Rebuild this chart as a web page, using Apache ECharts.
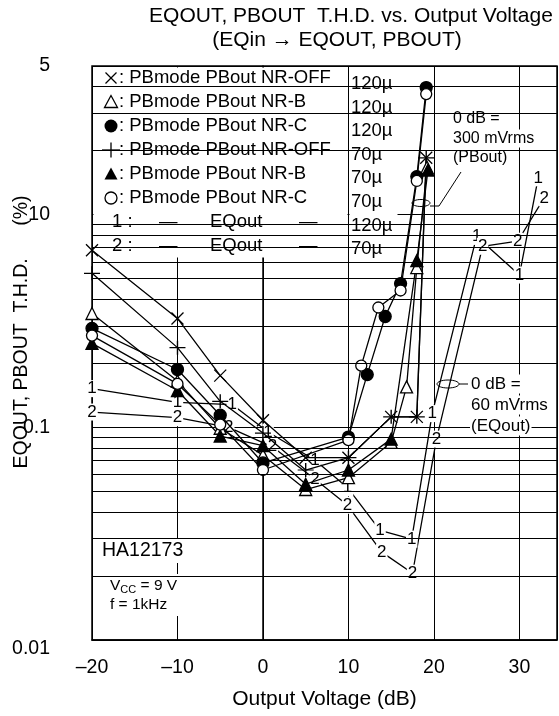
<!DOCTYPE html>
<html>
<head>
<meta charset="utf-8">
<script src="https://cdn.jsdelivr.net/npm/echarts@6/dist/echarts.min.js"></script>
<style>html,body{margin:0;padding:0;background:#fff}#c{width:559px;height:716px}</style>
</head>
<body>
<div id="c"></div>
<script>
const F = '"Liberation Sans", Arial, Helvetica, sans-serif';

// ---- axis ticks ----
const xTickValues = [-20, -10, 0, 10, 20, 30];
const xTickLabels = ['–20', '–10', '0', '10', '20', '30'];
const yTickValues = [0.01, 0.1, 1, 5];
const yTickText = ['0.01', '0.1', '10', '5'];
const minorGrid = [0.02,0.03,0.04,0.05,0.06,0.07,0.08,0.09,0.2,0.3,0.4,0.5,0.6,0.7,0.8,0.9,2,3,4];
const leftTicks = [4,3,2,0.9,0.8,0.7];

// ---- data: [output voltage dB, THD %] ----
const pbCrossNROFF = [[-20,0.68],[-10,0.325],[-5,0.175],[0,0.108],[5,0.072],[10,0.072],[15,0.112],[18,0.112],[19.1,1.85]];
const pbPlusNROFF  = [[-20,0.53],[-10,0.237],[-5,0.1325],[0,0.094],[5,0.063],[10,0.072],[15,0.112],[18,0.112],[19.1,1.85]];
const pbOpenTriNRB = [[-20,0.343],[-10,0.165],[-5,0.099],[0,0.074],[5,0.051],[10,0.058],[15,0.085],[16.8,0.155],[18,0.564],[19.2,1.67]];
const pbFillTriNRB = [[-20,0.248],[-10,0.149],[-5,0.091],[0,0.082],[5,0.054],[10,0.063],[15,0.088],[18,0.608],[19.3,1.62]];
const pbFillCirNRC = [[-20,0.292],[-10,0.187],[-5,0.114],[0,0.068],[10,0.09],[12.2,0.177],[14.3,0.332],[16.1,0.474],[18,1.51],[19.1,3.96]];
const pbOpenCirNRC = [[-20,0.27],[-10,0.16],[-5,0.103],[0,0.063],[10,0.087],[11.5,0.195],[13.5,0.366],[16.1,0.44],[18,1.44],[19.1,3.69]];
const eqOut1 = [[-20,0.152],[-10,0.131],[-3.6,0.128],[0.6,0.095],[6.1,0.070],[9.9,0.052],[13.7,0.0328],[17.4,0.0298],[19.8,0.116],[25,0.79],[30,0.52],[32.2,1.49]];
const eqOut2 = [[-20,0.118],[-10,0.111],[-4.0,0.100],[1.1,0.081],[6.1,0.057],[9.9,0.043],[13.9,0.0259],[17.5,0.0206],[20.3,0.088],[25.7,0.71],[29.8,0.75],[32.9,1.20]];

const CROSS = 'path://M0,0L10,10M10,0L0,10';
const PLUS = 'path://M5,0L5,10M0,5L10,5';

function markerSeries(name, data, symbol, size, fill) {
  return {
    name, type: 'line', data, z: 3,
    symbol, symbolSize: size, showAllSymbol: true,
    lineStyle: { color: '#000', width: 1.3 },
    itemStyle: { color: fill, borderColor: '#000', borderWidth: 1.3 },
    emphasis: { disabled: true }
  };
}
function eqSeries(name, data, txt) {
  return {
    name, type: 'line', data, z: 2,
    symbol: 'circle', symbolSize: 1, showAllSymbol: true,
    lineStyle: { color: '#000', width: 1.3 },
    itemStyle: { color: 'rgba(0,0,0,0)', borderWidth: 0 },
    label: { show: true, position: 'inside', formatter: txt, color: '#000', fontFamily: F, fontSize: 17,
             backgroundColor: '#fff', padding: [0, 1] },
    emphasis: { disabled: true }
  };
}

const chart = echarts.init(document.getElementById('c'));

// legend (drawn as annotation graphics)
const legRows = [
  ': PBmode PBout NR-OFF', ': PBmode PBout NR-B', ': PBmode PBout NR-C',
  ': PBmode PBout NR-OFF', ': PBmode PBout NR-B', ': PBmode PBout NR-C'
];
const legY0 = 78, legDy = 24, legFs = 18.5;
const g = [];
g.push({ type: 'rect', z: 1, shape: { x: 93.5, y: 67.5, width: 254, height: 190 }, style: { fill: '#fff' } });
g.push({ type: 'rect', z: 1, shape: { x: 349.5, y: 67.5, width: 48, height: 190 }, style: { fill: '#fff' } });
legRows.forEach((t, i) => {
  g.push({ type: 'text', z: 4, x: 119, y: legY0 + i * legDy, style: { text: t, font: legFs + 'px ' + F, fill: '#000', verticalAlign: 'middle' } });
});
const sx = 111;
let cy = legY0;
g.push({ type: 'line', z: 4, shape: { x1: sx - 5.5, y1: cy - 5.5, x2: sx + 5.5, y2: cy + 5.5 }, style: { stroke: '#000', lineWidth: 1.3 } });
g.push({ type: 'line', z: 4, shape: { x1: sx + 5.5, y1: cy - 5.5, x2: sx - 5.5, y2: cy + 5.5 }, style: { stroke: '#000', lineWidth: 1.3 } });
cy = legY0 + legDy;
g.push({ type: 'polygon', z: 4, shape: { points: [[sx, cy - 6.5], [sx - 6.5, cy + 5.5], [sx + 6.5, cy + 5.5]] }, style: { fill: '#fff', stroke: '#000', lineWidth: 1.3 } });
cy = legY0 + 2 * legDy;
g.push({ type: 'circle', z: 4, shape: { cx: sx, cy: cy, r: 6.5 }, style: { fill: '#000' } });
cy = legY0 + 3 * legDy;
g.push({ type: 'line', z: 4, shape: { x1: sx - 9, y1: cy, x2: sx + 9, y2: cy }, style: { stroke: '#000', lineWidth: 1.3 } });
g.push({ type: 'line', z: 4, shape: { x1: sx, y1: cy - 7.5, x2: sx, y2: cy + 7.5 }, style: { stroke: '#000', lineWidth: 1.3 } });
cy = legY0 + 4 * legDy;
g.push({ type: 'polygon', z: 4, shape: { points: [[sx, cy - 6.5], [sx - 6.5, cy + 5.5], [sx + 6.5, cy + 5.5]] }, style: { fill: '#000' } });
cy = legY0 + 5 * legDy;
g.push({ type: 'circle', z: 4, shape: { cx: sx, cy: cy, r: 6 }, style: { fill: '#fff', stroke: '#000', lineWidth: 1.3 } });
[['1', 6], ['2', 7]].forEach(([n, i]) => {
  const yy = legY0 + i * legDy;
  g.push({ type: 'text', z: 4, x: 112, y: yy, style: { text: n + ' :', font: legFs + 'px ' + F, fill: '#000', verticalAlign: 'middle' } });
  g.push({ type: 'text', z: 4, x: 159, y: yy, style: { text: '—', font: legFs + 'px ' + F, fill: '#000', verticalAlign: 'middle' } });
  g.push({ type: 'text', z: 4, x: 210, y: yy, style: { text: 'EQout', font: legFs + 'px ' + F, fill: '#000', verticalAlign: 'middle' } });
  g.push({ type: 'text', z: 4, x: 299, y: yy, style: { text: '—', font: legFs + 'px ' + F, fill: '#000', verticalAlign: 'middle' } });
});
// capacitor column
const capTexts = ['120µ', '120µ', '120µ', '70µ', '70µ', '70µ', '120µ', '70µ'];
capTexts.forEach((t, i) => {
  g.push({ type: 'text', z: 4, x: 351, y: 84 + i * 23.6, style: { text: t, font: '18.5px ' + F, fill: '#000', verticalAlign: 'middle' } });
});
// 0 dB annotations
const pbNote = ['0 dB =', '300 mVrms', '(PBout)'];
pbNote.forEach((t, i) => {
  g.push({ type: 'text', z: 1, x: 452, y: 119 + i * 19.5, style: { text: t, font: '16px ' + F, fill: '#000', verticalAlign: 'middle', backgroundColor: '#fff', padding: [1, 1] } });
});
g.push({ type: 'ellipse', z: 4, shape: { cx: 421, cy: 203, rx: 9, ry: 3.5 }, style: { fill: 'none', stroke: '#000', lineWidth: 1 } });
g.push({ type: 'polyline', z: 4, shape: { points: [[430, 206], [439, 206], [461, 172]] }, style: { stroke: '#000', lineWidth: 1, fill: 'none' } });
const eqNote = ['0 dB =', '60 mVrms', '(EQout)'];
eqNote.forEach((t, i) => {
  g.push({ type: 'text', z: 1, x: 470, y: 384 + i * 21, style: { text: t, font: '17px ' + F, fill: '#000', verticalAlign: 'middle', backgroundColor: '#fff', padding: [1, 1] } });
});
g.push({ type: 'ellipse', z: 4, shape: { cx: 448, cy: 384, rx: 11, ry: 4 }, style: { fill: 'none', stroke: '#000', lineWidth: 1 } });
g.push({ type: 'line', z: 4, shape: { x1: 459, y1: 384, x2: 468, y2: 384 }, style: { stroke: '#000', lineWidth: 1 } });
// device / conditions
g.push({ type: 'text', z: 1, x: 100, y: 551, style: { text: 'HA12173', font: '19.5px ' + F, fill: '#000', verticalAlign: 'middle', backgroundColor: '#fff', padding: [2, 2] } });
g.push({ type: 'text', z: 1, x: 108, y: 595, style: {
  text: '{n|V}{s|CC}{n| = 9 V}\n{n|f = 1kHz}', fill: '#000', verticalAlign: 'middle', backgroundColor: '#fff', padding: [2, 2],
  rich: { n: { font: '15.5px ' + F, lineHeight: 19 }, s: { font: '11px ' + F, verticalAlign: 'bottom', lineHeight: 19, padding: [6, 0, 0, 0] } } } });
// titles
g.push({ type: 'text', x: 351, y: 16, style: { text: 'EQOUT, PBOUT  T.H.D. vs. Output Voltage', font: '21px ' + F, fill: '#000', align: 'center', verticalAlign: 'middle' } });
g.push({ type: 'text', x: 337, y: 40, style: { text: '(EQin → EQOUT, PBOUT)', font: '21px ' + F, fill: '#000', align: 'center', verticalAlign: 'middle' } });
// y axis title
g.push({ type: 'text', x: 22, y: 332, rotation: Math.PI / 2, style: { text: 'EQOUT, PBOUT  T.H.D.      (%)', font: '19.5px ' + F, fill: '#000', align: 'center', verticalAlign: 'middle' } });

const option = {
  animation: false,
  backgroundColor: '#fff',
  grid: { left: 92, right: 2, top: 66, bottom: 76, containLabel: false, outerBoundsMode: 'none',
          show: true, borderColor: '#000', borderWidth: 1.5, backgroundColor: 'rgba(0,0,0,0)' },
  xAxis: {
    type: 'value', min: -20, max: 34.4, interval: 10,
    name: 'Output Voltage (dB)', nameLocation: 'middle', nameGap: 49,
    nameTextStyle: { fontFamily: F, fontSize: 21, color: '#000' },
    axisLine: { show: true, lineStyle: { color: '#000', width: 1.5 } },
    axisTick: { show: false },
    axisLabel: { showMaxLabel: false, margin: 18, fontFamily: F, fontSize: 19.5, color: '#000',
      formatter: v => { const i = xTickValues.indexOf(v); return i >= 0 ? xTickLabels[i] : ''; } },
    splitLine: { show: true, lineStyle: { color: '#000', width: 1 } }
  },
  yAxis: {
    type: 'log', logBase: 10, min: 0.01, max: 5,
    axisLine: { show: true, lineStyle: { color: '#000', width: 1.5 } },
    axisTick: { show: false },
    axisLabel: { margin: 42, fontFamily: F, fontSize: 19.5, color: '#000', showMaxLabel: true, showMinLabel: true,
      formatter: v => {
        const i = yTickValues.findIndex(t => Math.abs(t - v) / t < 1e-6);
        if (i < 0) return '';
        return i === 0 ? '{lo|' + yTickText[i] + '}' : yTickText[i];
      },
      rich: { lo: { fontFamily: F, fontSize: 19.5, color: '#000', padding: [17, 0, 0, 0] } } },
    splitLine: { show: true, lineStyle: { color: '#000', width: 1 } }
  },
  graphic: g,
  series: [
    { type: 'line', data: [], z: 0, silent: true,
      markLine: { silent: true, symbol: ['none', 'none'], label: { show: false }, animation: false,
        lineStyle: { color: '#000', width: 1, type: 'solid' },
        emphasis: { disabled: true },
        data: minorGrid.map(v => ({ yAxis: v })) } },
    { type: 'line', data: [], z: 2, silent: true,
      markLine: { silent: true, symbol: ['none', 'none'], label: { show: false }, animation: false,
        lineStyle: { color: '#000', width: 1, type: 'solid' },
        emphasis: { disabled: true },
        data: leftTicks.map(v => [{ coord: [-20, v] }, { coord: [-19.3, v] }]) } },
    eqSeries('1: EQout', eqOut1, '1'),
    eqSeries('2: EQout', eqOut2, '2'),
    markerSeries('×: PBmode PBout NR-OFF', pbCrossNROFF, CROSS, 12, '#000'),
    markerSeries('+: PBmode PBout NR-OFF', pbPlusNROFF, PLUS, [16, 14], '#000'),
    markerSeries('△: PBmode PBout NR-B', pbOpenTriNRB, 'triangle', 12, '#fff'),
    markerSeries('▲: PBmode PBout NR-B', pbFillTriNRB, 'triangle', 12, '#000'),
    markerSeries('●: PBmode PBout NR-C', pbFillCirNRC, 'circle', 12, '#000'),
    markerSeries('○: PBmode PBout NR-C', pbOpenCirNRC, 'circle', 11, '#fff')
  ]
};
chart.setOption(option);
</script>
</body>
</html>
